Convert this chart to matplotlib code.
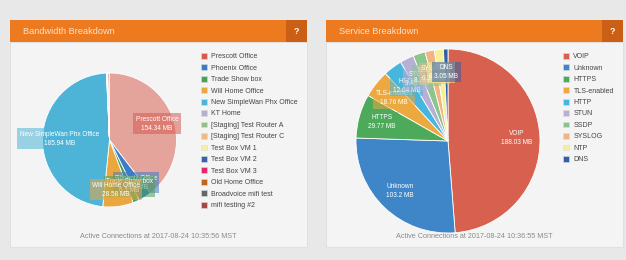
import matplotlib.pyplot as plt
import numpy as np
from matplotlib.patches import Patch, Rectangle

plt.rcParams["font.family"] = ["Liberation Sans", "DejaVu Sans"]

W, H = 626, 260

bw_names = [
    "Prescott Office",
    "Phoenix Office",
    "Trade Show box",
    "Will Home Office",
    "New SimpleWan Phx Office",
    "KT Home",
    "[Staging] Test Router A",
    "[Staging] Test Router C",
    "Test Box VM 1",
    "Test Box VM 2",
    "Test Box VM 3",
    "Old Home Office",
    "Broadvoice mifi test",
    "mifi testing #2",
]
bw_values = [154.34, 12.4, 6.1, 28.58, 185.94, 0.3, 0.2, 0.2, 0.1, 0.1, 0.1, 0.3, 0.3, 1.3]
bw_colors = [
    "#d65a50", "#3a7cc6", "#4aa05a", "#eba73f", "#4db4d8", "#b5b0cf", "#8fc38a",
    "#f0b98a", "#f4f0a0", "#3a62a8", "#e8246c", "#c0641f", "#666666", "#a84545",
]
bw_slice_colors = ["#e4a49c"] + bw_colors[1:]

svc_names = ["VOIP", "Unknown", "HTTPS", "TLS-enabled", "HTTP", "STUN", "SSDP", "SYSLOG", "NTP", "DNS"]
svc_values = [188.03, 103.2, 29.77, 18.76, 12.64, 9.46, 8.31, 6.29, 6.12, 3.05]
svc_colors = [
    "#d8604f", "#3e86c8", "#4caa5a", "#eca93f", "#48b6dc",
    "#b7b0d6", "#8cc58c", "#f2b483", "#f5f097", "#2f5fa8",
]

fig = plt.figure(figsize=(W / 100, H / 100), dpi=100, facecolor="#e8e8e8")
bg = fig.add_axes([0, 0, 1, 1], zorder=0)
bg.set_xlim(0, W)
bg.set_ylim(H, 0)
bg.axis("off")


def draw_card(x0, x1, title, footer):
    bg.add_patch(Rectangle((x0, 42), x1 - x0, 205, fc="#f4f4f4", ec="#dedede", lw=0.6))
    bg.add_patch(Rectangle((x0, 20), x1 - x0, 22, fc="#ee7a1f", ec="none"))
    bg.add_patch(Rectangle((x1 - 21, 20), 21, 22, fc="#cc5f16", ec="none"))
    bg.text(x0 + 13, 31.5, title, color="#fce2c8", fontsize=6.6, va="center", ha="left")
    bg.text(x1 - 10.5, 31.5, "?", color="white", fontsize=6.5, weight="bold", va="center", ha="center")
    bg.text((x0 + x1) / 2, 237, footer, color="#8a8a8a", fontsize=5.2, va="center", ha="center")


def draw_pie(cx, cy, r, values, names, slice_colors, box_colors, min_frac):
    ax = fig.add_axes([(cx - r) / W, (H - cy - r) / H, 2 * r / W, 2 * r / H], zorder=1)
    wedges, _ = ax.pie(
        values,
        colors=slice_colors,
        startangle=90,
        counterclock=False,
        wedgeprops=dict(edgecolor="white", linewidth=0.6),
    )
    ax.set_xlim(-1, 1)
    ax.set_ylim(-1, 1)
    total = sum(values)
    for w, name, v, c in zip(wedges, names, values, box_colors):
        if v / total < min_frac:
            continue
        mid = np.deg2rad((w.theta1 + w.theta2) / 2)
        ax.text(
            0.75 * np.cos(mid),
            0.75 * np.sin(mid),
            f"{name}\n{v:g} MB",
            ha="center",
            va="center",
            color="white",
            fontsize=4.7,
            linespacing=1.45,
            bbox=dict(boxstyle="square,pad=0.35", fc=c, ec="none", alpha=0.55),
        )
    return ax


draw_card(10, 307, "Bandwidth Breakdown", "Active Connections at 2017-08-24 10:35:56 MST")
draw_card(326, 623, "Service Breakdown", "Active Connections at 2017-08-24 10:36:55 MST")

draw_pie(109.5, 140, 67, bw_values, bw_names, bw_slice_colors, bw_colors, 0.01)
draw_pie(448, 141, 92, svc_values, svc_names, svc_colors, svc_colors, 0.0)


def draw_legend(x, y, names, colors):
    handles = [Patch(fc=c, ec="#dddddd", lw=0.4) for c in colors]
    fig.legend(
        handles,
        names,
        loc="upper left",
        bbox_to_anchor=(x / W, 1 - y / H),
        frameon=False,
        fontsize=5.0,
        labelcolor="#444444",
        handlelength=0.9,
        handleheight=0.9,
        handletextpad=0.6,
        labelspacing=0.6,
        borderpad=0,
        borderaxespad=0,
    )


draw_legend(201, 53, bw_names, bw_colors)
draw_legend(563, 53, svc_names, svc_colors)

fig.savefig("out.png", dpi=100, facecolor=fig.get_facecolor())
